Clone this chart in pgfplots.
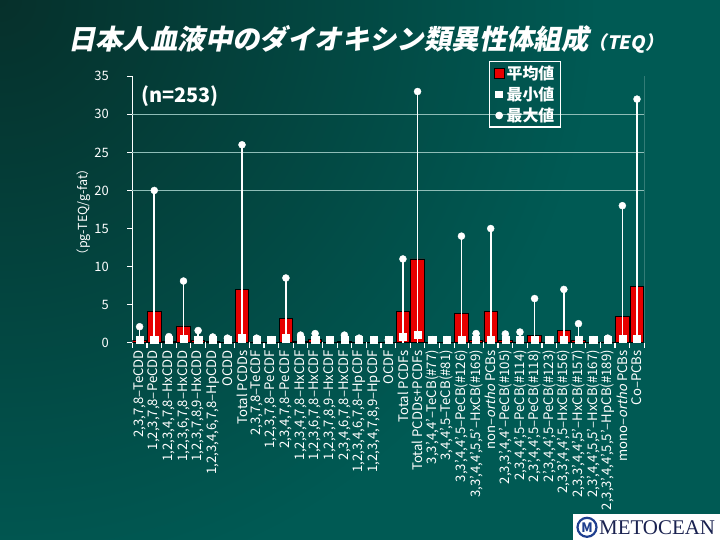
\documentclass[border=0pt]{standalone}
\usepackage{fontspec}
\setmainfont{Noto Sans CJK JP}
\newfontfamily\titlefont{Noto Sans CJK JP}[FakeSlant=0.2]
\newfontfamily\oblfont{Noto Sans CJK JP}[FakeSlant=0.2]
\newfontfamily\logofont{Liberation Serif}
\usepackage{pgfplots}
\usepackage{pgfplotstable}
\pgfplotsset{compat=1.18}
\definecolor{bgteal}{HTML}{005A54}
\definecolor{bgdark}{HTML}{06302B}
\definecolor{gridc}{HTML}{8FBDB7}
\definecolor{barred}{HTML}{E60000}
\definecolor{logoblue}{HTML}{1F3F8F}
\definecolor{logonavy}{HTML}{1A2250}

\pgfplotstableread{
x  mean  min   max
1  0.30  0.40  2.1
2  4.10  0.40  20.0
3  0.20  0.40  0.8
4  2.20  0.50  8.1
5  0.25  0.40  1.6
6  0.20  0.40  0.75
7  0.05  0.40  0.6
8  7.00  0.60  26.0
9  0.10  0.40  0.6
10 0.05  0.40  0.4
11 3.20  0.60  8.5
12 0.20  0.40  1.0
13 0.45  0.40  1.2
14 0.02  0.40  0.4
15 0.20  0.40  1.0
16 0.05  0.40  0.6
17 0.01  0.40  0.4
18 0.01  0.40  0.4
19 4.10  0.80  11.0
20 11.00 1.00  33.0
21 0.01  0.40  0.4
22 0.02  0.40  0.4
23 3.80  0.40  14.0
24 0.25  0.40  1.2
25 4.10  0.40  15.0
26 0.25  0.40  1.15
27 0.10  0.40  1.4
28 0.90  0.40  5.8
29 0.02  0.40  0.4
30 1.60  0.40  7.0
31 0.35  0.40  2.5
32 0.05  0.40  0.4
33 0.10  0.40  0.6
34 3.40  0.50  18.0
35 7.40  0.55  32.0
}\dioxin

\begin{document}
\begin{tikzpicture}[x=1bp,y=1bp]
\useasboundingbox (0,0) rectangle (720,540);
\fill[bgteal] (0,0) rectangle (720,540);
\begin{scope}
\clip (0,0) rectangle (720,540);
\shade[inner color=bgdark, outer color=bgteal] (0,540) circle (600);
\end{scope}

% title
\node[anchor=base west, text=white, inner sep=0] at (68,490)
  {\titlefont\bfseries\fontsize{27.5}{30}\selectfont 日本人血液中のダイオキシン類異性体組成\fontsize{18.5}{20}\selectfont （TEQ）};

% y label
\node[rotate=90, text=white, inner sep=0, font=\fontsize{12.5}{14}\selectfont] at (84,328) {（pg-TEQ/g-fat）};

\begin{axis}[
  at={(132.3bp,197.3bp)}, anchor=south west,
  scale only axis, width=512bp, height=266.4bp,
  xmin=0.5, xmax=35.5, ymin=0, ymax=35,
  axis x line*=bottom, axis y line*=left,
  axis line style={white, line width=1.3bp, -},
  tick align=outside,
  major tick length=5bp,
  every tick/.style={white, line width=1.2bp},
  ytick={0,5,...,35},
  yticklabel style={text=white, anchor=east, xshift=-15bp, font=\fontsize{13}{14}\selectfont},
  /pgf/number format/assume math mode=true,
  extra y ticks={20,25,30},
  extra y tick labels={},
  extra y tick style={grid=major},
  major grid style={gridc, line width=0.9bp},
  xtick={0.5,1.5,...,35.5},
  xticklabels={},
  extra x ticks={1,...,35},
  extra x tick style={major tick length=0pt},
  xticklabel shift=4bp,
  xticklabel style={rotate=90, anchor=east, text=white, font=\fontsize{13.2}{15}\selectfont},
  extra x tick labels={
    {2,3,7,8–TeCDD},
    {1,2,3,7,8–PeCDD},
    {1,2,3,4,7,8–HxCDD},
    {1,2,3,6,7,8–HxCDD},
    {1,2,3,7,8,9–HxCDD},
    {1,2,3,4,6,7,8–HpCDD},
    {OCDD},
    {Total PCDDs},
    {2,3,7,8–TeCDF},
    {1,2,3,7,8–PeCDF},
    {2,3,4,7,8–PeCDF},
    {1,2,3,4,7,8–HxCDF},
    {1,2,3,6,7,8–HxCDF},
    {1,2,3,7,8,9–HxCDF},
    {2,3,4,6,7,8–HxCDF},
    {1,2,3,4,6,7,8–HpCDF},
    {1,2,3,4,7,8,9–HpCDF},
    {OCDF},
    {Total PCDFs},
    {Total PCDDs+PCDFs},
    {3,3',4,4'–TeCB(\#77)},
    {3,4,4',5–TeCB(\#81)},
    {3,3',4,4',5–PeCB(\#126)},
    {3,3',4,4',5,5'–HxCB(\#169)},
    {non–{\oblfont ortho} PCBs},
    {2,3,3',4,4'–PeCB(\#105)},
    {2,3,4,4',5–PeCB(\#114)},
    {2,3',4,4',5–PeCB(\#118)},
    {2',3,4,4',5–PeCB(\#123)},
    {2,3,3',4,4',5–HxCB(\#156)},
    {2,3,3',4,4',5'–HxCB(\#157)},
    {2,3',4,4',5,5'–HxCB(\#167)},
    {2,3,3',4,4',5,5'–HpCB(\#189)},
    {mono–{\oblfont ortho} PCBs},
    {Co–PCBs}},
  legend style={at={(0.697,1.057)}, anchor=north west, draw=white, line width=1.2bp,
    fill=none, text=white, font=\bfseries\fontsize{16}{18}\selectfont,
    inner xsep=4bp, inner ysep=2bp, row sep=2bp},
  legend cell align=left,
]
\addplot[ybar, bar shift=0pt, bar width=0.92, fill=barred, draw=black, line width=0.8bp,
  legend image code/.code={\draw[fill=barred, draw=black, line width=0.8bp] (0bp,-5bp) rectangle (10bp,5bp);}]
  table[x=x, y=mean] {\dioxin};
\addlegendentry{平均値}
\addplot[ycomb, draw=white, line width=1.6bp, no marks, forget plot]
  table[x=x, y=max] {\dioxin};
\addplot[only marks, mark=square*, mark size=3.6bp, draw=white, fill=white,
  legend image code/.code={\path[draw=none, fill=none] (0bp,-5bp) rectangle (10bp,5bp);
    \draw[white, fill=white] plot[mark=square*, mark size=3.3bp] coordinates {(5bp,0bp)};}]
  table[x=x, y=min] {\dioxin};
\addlegendentry{最小値}
\addplot[only marks, mark=*, mark size=3.5bp, draw=white, fill=white,
  legend image code/.code={\path[draw=none, fill=none] (0bp,-5bp) rectangle (10bp,5bp);
    \draw[white, fill=white] plot[mark=*, mark size=3.2bp] coordinates {(5bp,0bp)};}]
  table[x=x, y=max] {\dioxin};
\addlegendentry{最大値}
\draw[gridc, line width=1bp] (rel axis cs:1,0) -- (rel axis cs:1,1);
\node[anchor=west, text=white, inner sep=0, font=\bfseries\fontsize{20}{22}\selectfont]
  at (rel axis cs:0.017,0.926) {(n=253)};
\end{axis}

% logo
\fill[white] (573,0) rectangle (720,25.5);
\draw[logoblue, line width=2.2bp] (587,12.7) circle (9.5);
\node[text=logoblue, inner sep=0, font=\bfseries\fontsize{13}{13}\selectfont] at (587,12.7) {M};
\node[anchor=west, text=logonavy, inner sep=0, font=\logofont\fontsize{21}{22}\selectfont] at (599,12) {METOCEAN};
\end{tikzpicture}
\end{document}
